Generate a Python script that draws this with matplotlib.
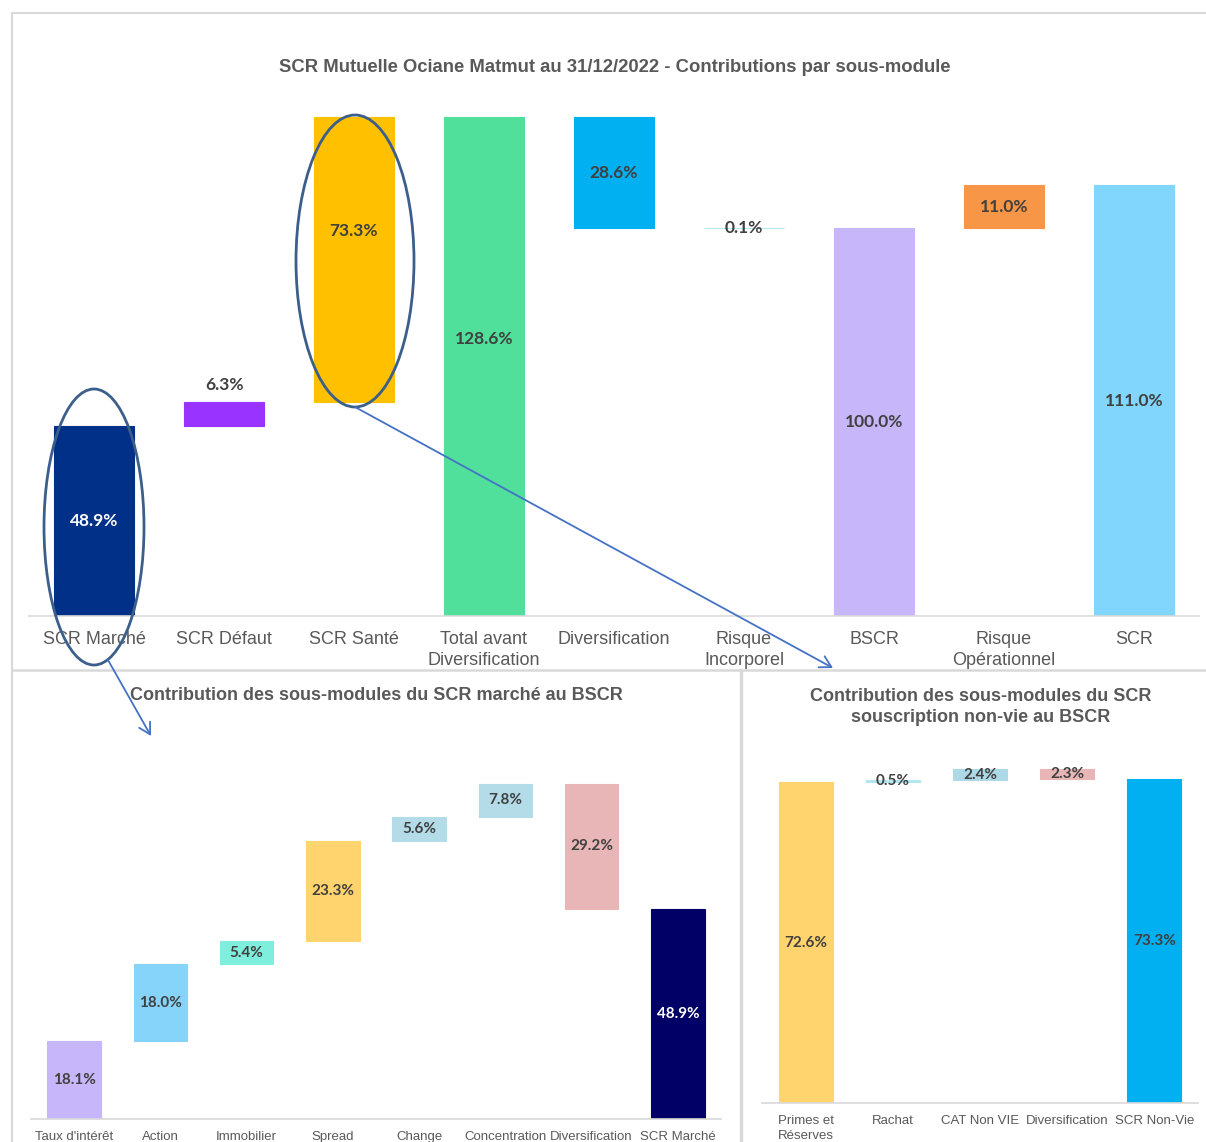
import matplotlib
matplotlib.use("Agg")
import matplotlib.pyplot as plt
from matplotlib.patches import Ellipse

W, H = 1206, 1142

# --- top chart: SCR contributions
top_labels = ["SCR Marché", "SCR Défaut", "SCR Santé", "Total avant\nDiversification",
              "Diversification", "Risque\nIncorporel", "BSCR", "Risque\nOpérationnel", "SCR"]
top_values = [48.9, 6.3, 73.3, 128.6, -28.6, 0.1, 100.0, 11.0, 111.0]
top_total = [False, False, False, True, False, False, True, False, True]
top_colors = ["#003087", "#9933FF", "#FFC000", "#50E09C", "#00B0F0",
              "#B4E6F0", "#C8B6FA", "#F79646", "#80D6FC"]

# --- bottom left: SCR marché sub-modules
mkt_labels = ["Taux d'intérêt", "Action", "Immobilier", "Spread", "Change",
              "Concentration", "Diversification", "SCR Marché"]
mkt_values = [18.1, 18.0, 5.4, 23.3, 5.6, 7.8, -29.2, 48.9]
mkt_total = [False, False, False, False, False, False, False, True]
mkt_colors = ["#C8B6FA", "#86D4FA", "#80EEDC", "#FFD46E", "#B4DCE8",
              "#B4DCE8", "#E8B6B6", "#000066"]

# --- bottom right: SCR non-vie sub-modules
nv_labels = ["Primes et\nRéserves", "Rachat", "CAT Non VIE", "Diversification", "SCR Non-Vie"]
nv_values = [72.6, 0.5, 2.4, -2.3, 73.3]
nv_total = [False, False, False, False, True]
nv_colors = ["#FFD46E", "#B4E6F0", "#ADD8E6", "#E8B6B6", "#00B0F0"]

GRAY = "#595959"
LBL = "#404040"


def waterfall(values, is_total):
    bottoms, heights = [], []
    run = 0.0
    for v, t in zip(values, is_total):
        if t:
            bottoms.append(0.0)
            heights.append(v)
            run = v
        else:
            bottoms.append(min(run, run + v))
            heights.append(abs(v))
            run += v
    return bottoms, heights


def add_axes_px(fig, x0, x1, y0, y1):
    return fig.add_axes([x0 / W, 1 - y1 / H, (x1 - x0) / W, (y1 - y0) / H])


def draw(ax, labels, values, is_total, colors, ymax, tick_size, tick_pad,
         val_size, white=(), above=(), frac=None, tick_ls=1.1):
    frac = frac or {}
    bottoms, heights = waterfall(values, is_total)
    xs = range(len(values))
    ax.bar(xs, heights, bottom=bottoms, width=0.62, color=colors,
           edgecolor=colors, linewidth=0.8, zorder=2)
    for i, (b, h, v) in enumerate(zip(bottoms, heights, values)):
        col = "white" if i in white else LBL
        txt = f"{abs(v):.1f}%"
        if i in above:
            ax.annotate(txt, (i, b + h), xytext=(0, 6), textcoords="offset points",
                        ha="center", va="bottom", fontsize=val_size,
                        fontweight="bold", color=col, family="Lato")
        else:
            ax.text(i, b + h * frac.get(i, 0.5), txt, ha="center", va="center",
                    fontsize=val_size, fontweight="bold", color=col, family="Lato",
                    zorder=3)
    ax.set_xlim(-0.5, len(values) - 0.5)
    ax.set_ylim(0, ymax)
    ax.set_xticks(list(xs))
    ax.set_xticklabels(labels, fontsize=tick_size, color=GRAY, family="Liberation Sans",
                       linespacing=tick_ls)
    ax.tick_params(axis="x", length=0, pad=tick_pad)
    ax.set_yticks([])
    for s in ["top", "left", "right"]:
        ax.spines[s].set_visible(False)
    ax.spines["bottom"].set_color("#D9D9D9")
    ax.spines["bottom"].set_linewidth(1.2)
    ax.patch.set_alpha(0)


fig = plt.figure(figsize=(W / 100, H / 100), dpi=100)
fig.patch.set_facecolor("white")

ax1 = add_axes_px(fig, 29, 1199, 100, 616)
draw(ax1, top_labels, top_values, top_total, top_colors, 516 / 3.88, 13, 11, 12.5,
     white=(0,), above=(1,), frac={2: 0.6, 3: 0.555}, tick_ls=1.3)

ax2 = add_axes_px(fig, 31, 721, 760, 1119)
draw(ax2, mkt_labels, mkt_values, mkt_total, mkt_colors, 359 / 4.29, 9.5, 8.5, 11,
     white=(7,))

ax3 = add_axes_px(fig, 762, 1198, 750, 1103)
draw(ax3, nv_labels, nv_values, nv_total, nv_colors, 353 / 4.42, 9.5, 8.5, 11,
     tick_ls=1.35)

fig.text(615 / W, 1 - 68 / H,
         "SCR Mutuelle Ociane Matmut au 31/12/2022 - Contributions par sous-module",
         ha="center", va="center", fontsize=13.3, fontweight="bold", color=GRAY,
         family="Liberation Sans")
fig.text(376 / W, 1 - 696 / H, "Contribution des sous-modules du SCR marché au BSCR",
         ha="center", va="center", fontsize=13, fontweight="bold", color=GRAY,
         family="Liberation Sans")
fig.text(981 / W, 1 - 707 / H,
         "Contribution des sous-modules du SCR\nsouscription non-vie au BSCR",
         ha="center", va="center", fontsize=13, fontweight="bold", color=GRAY,
         family="Liberation Sans", linespacing=1.35)

# overlay: panel frames, ellipses, arrows
ov = fig.add_axes([0, 0, 1, 1], zorder=10)
ov.set_xlim(0, W)
ov.set_ylim(H, 0)
ov.axis("off")
ov.patch.set_alpha(0)
frame = "#D9D9D9"
ov.plot([12, W], [13, 13], color=frame, lw=1.5)
ov.plot([12, 12], [13, H], color=frame, lw=1.5)
ov.plot([12, W], [670, 670], color=frame, lw=1.8)
ov.plot([741, 741], [670, H], color=frame, lw=2.5)

ring = "#3B5F8A"
ov.add_patch(Ellipse((94, 527), 100, 276, fill=False, ec=ring, lw=2))
ov.add_patch(Ellipse((355, 261), 118, 292, fill=False, ec=ring, lw=2))
arrow = dict(arrowstyle="->,head_length=0.8,head_width=0.45", color="#4472C4", lw=1.3,
             shrinkA=0, shrinkB=0)
ov.annotate("", xy=(151, 736), xytext=(108, 660), arrowprops=arrow)
ov.annotate("", xy=(833, 668), xytext=(355, 407), arrowprops=arrow)

fig.savefig("out.png", dpi=100)
